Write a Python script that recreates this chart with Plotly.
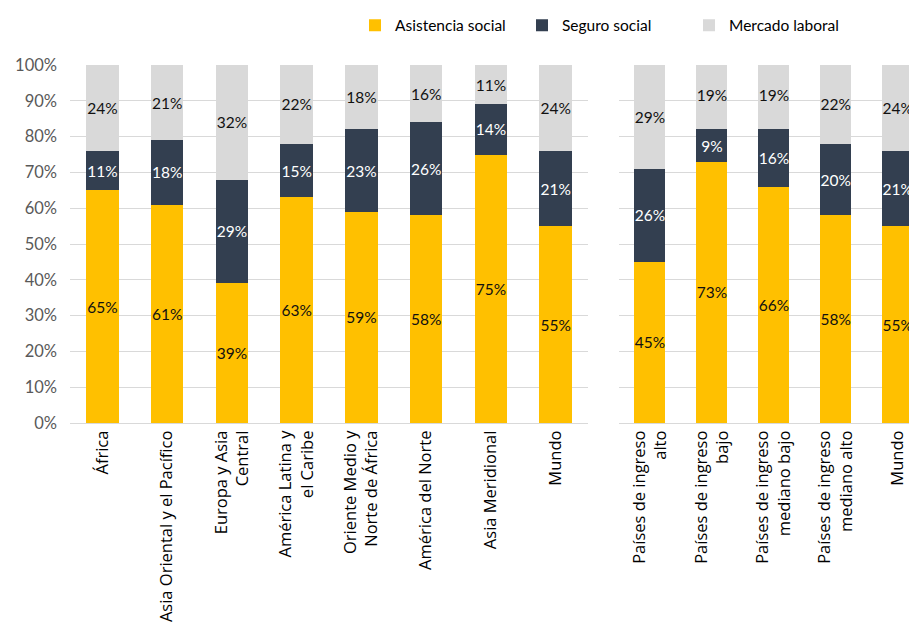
import plotly.graph_objects as go

# ---- data ----
regions = ["África", "Asia Oriental y el Pacífico", "Europa y Asia<br>Central",
           "América Latina y<br>el Caribe", "Oriente Medio y<br>Norte de África",
           "América del Norte", "Asia Meridional", "Mundo"]
reg_asistencia = [65, 61, 39, 63, 59, 58, 75, 55]
reg_seguro = [11, 18, 29, 15, 23, 26, 14, 21]
reg_mercado = [24, 21, 32, 22, 18, 16, 11, 24]

income = ["Países de ingreso<br>alto", "Países de ingreso<br>bajo",
          "Países de ingreso<br>mediano bajo", "Países de ingreso<br>mediano alto", "Mundo"]
inc_asistencia = [45, 73, 66, 58, 55]
inc_seguro = [26, 9, 16, 20, 21]
inc_mercado = [29, 19, 19, 22, 24]

series_names = ["Asistencia social", "Seguro social", "Mercado laboral"]
colors = ["#FFC000", "#333F50", "#D9D9D9"]
text_colors = ["#111111", "#ffffff", "#111111"]

W, H = 917, 625
OFF = 8  # page offset of the figure inside the browser window
fig = go.Figure()

label_font = "Lato, 'Open Sans', sans-serif"
cat_font = "'Open Sans', sans-serif"

for i, (name, vals_r, vals_i) in enumerate(zip(series_names,
                                               [reg_asistencia, reg_seguro, reg_mercado],
                                               [inc_asistencia, inc_seguro, inc_mercado])):
    fig.add_trace(go.Bar(
        x=regions, y=vals_r, name=name, marker_color=colors[i], marker_line_width=0,
        text=[f"{v}%" for v in vals_r], textposition="inside", insidetextanchor="middle",
        textangle=0, constraintext="none",
        textfont=dict(color=text_colors[i], size=15.5, family=label_font),
        xaxis="x", yaxis="y", legendgroup=name, showlegend=True,
    ))
    fig.add_trace(go.Bar(
        x=income, y=vals_i, name=name, marker_color=colors[i], marker_line_width=0,
        text=[f"{v}%" for v in vals_i], textposition="inside", insidetextanchor="middle",
        textangle=0, constraintext="none",
        textfont=dict(color=text_colors[i], size=15.5, family=label_font),
        xaxis="x2", yaxis="y2", legendgroup=name, showlegend=False,
    ))

plot_top, plot_bottom = 60 - OFF, 423 - OFF

fig.update_layout(
    width=W, height=H,
    margin=dict(l=0, r=0, t=plot_top, b=H - plot_bottom),
    barmode="stack", bargap=0.5,
    plot_bgcolor="white", paper_bgcolor="white",
    font=dict(family=label_font, color="#000000"),
    showlegend=True,
    legend=dict(orientation="h", x=(355 - OFF) / W, xanchor="left",
                y=(plot_bottom - (20 - OFF)) / (plot_bottom - plot_top), yanchor="middle",
                font=dict(size=15.5, family=label_font, color="#000000"),
                entrywidth=122, entrywidthmode="pixels",
                itemwidth=30, traceorder="normal", bgcolor="rgba(0,0,0,0)"),
    xaxis=dict(domain=[(70 - OFF) / W, (588 - OFF) / W], type="category",
               tickangle=-90, tickfont=dict(size=16.5, family=cat_font, color="#000"),
               showline=True, linecolor="#d9d9d9", linewidth=1, ticks="", showgrid=False),
    xaxis2=dict(domain=[(619 - OFF) / W, 1.0], type="category", range=[-0.5, 4.44],
                tickangle=-90, tickfont=dict(size=16.5, family=cat_font, color="#000"),
                showline=True, linecolor="#d9d9d9", linewidth=1, ticks="", showgrid=False),
    yaxis=dict(range=[0, 100], dtick=10, ticksuffix="%", showgrid=True,
               gridcolor="#d9d9d9", gridwidth=1, zeroline=False,
               tickfont=dict(size=16.5, family=label_font, color="#595959"), ticks="",
               ticklabelstandoff=12),
    yaxis2=dict(range=[0, 100], dtick=10, showgrid=True, anchor="x2",
                gridcolor="#d9d9d9", gridwidth=1, zeroline=False, showticklabels=False,
                ticks=""),
)

fig.write_html("out.html")
